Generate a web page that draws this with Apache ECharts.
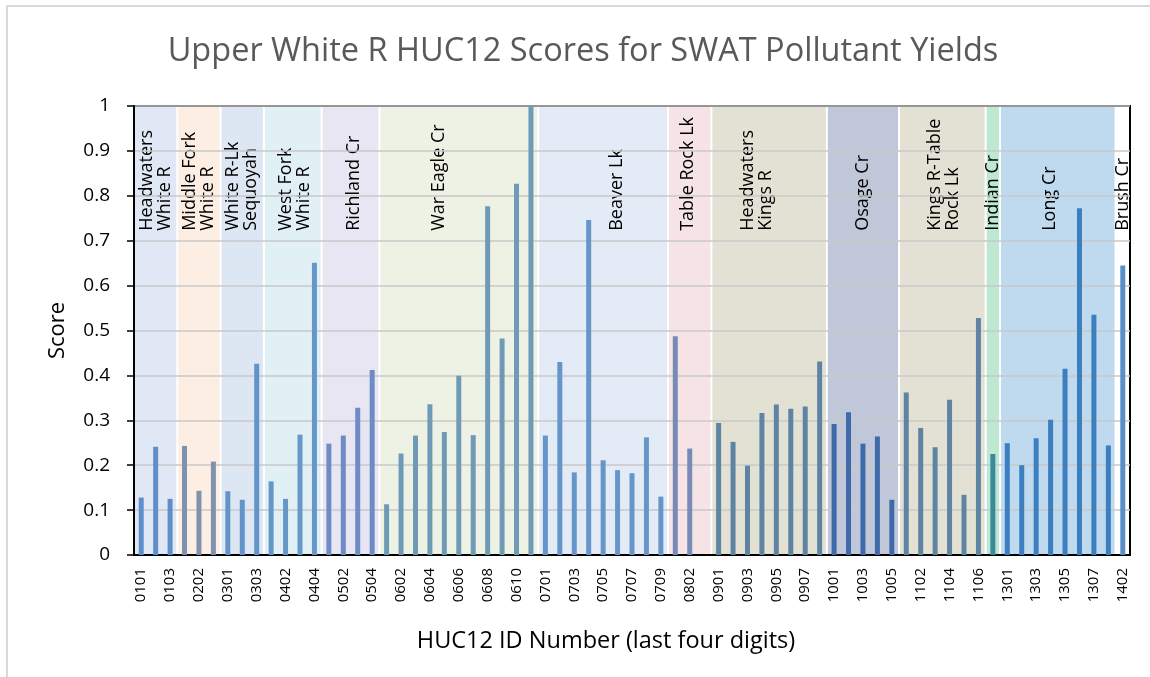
<!DOCTYPE html>
<html lang="en">
<head>
<meta charset="utf-8">
<title>Upper White R HUC12 Scores for SWAT Pollutant Yields</title>
<script src="https://cdn.jsdelivr.net/npm/echarts@6/dist/echarts.min.js"></script>
</head>
<body style="margin:0">
<div id="main" style="width:1150px;height:677px;"></div>
<script>
// HUC12 ids (last four digits) and their scores
var huc = ['0101', '0102', '0103', '0201', '0202', '0203', '0301', '0302', '0303',
    '0401', '0402', '0403', '0404', '0501', '0502', '0503', '0504',
    '0601', '0602', '0603', '0604', '0605', '0606', '0607', '0608', '0609', '0610', '0611',
    '0701', '0702', '0703', '0704', '0705', '0706', '0707', '0708', '0709',
    '0801', '0802', '0803',
    '0901', '0902', '0903', '0904', '0905', '0906', '0907', '0908',
    '1001', '1002', '1003', '1004', '1005',
    '1101', '1102', '1103', '1104', '1105', '1106',
    '1201',
    '1301', '1302', '1303', '1304', '1305', '1306', '1307', '1308',
    '1402'];
var scores = [0.128, 0.241, 0.125, 0.243, 0.143, 0.208, 0.142, 0.123, 0.426,
    0.164, 0.125, 0.268, 0.651, 0.248, 0.266, 0.328, 0.412,
    0.113, 0.226, 0.266, 0.336, 0.274, 0.399, 0.267, 0.777, 0.482, 0.827, 1.0,
    0.266, 0.430, 0.184, 0.746, 0.211, 0.189, 0.182, 0.262, 0.130,
    0.487, 0.237, null,
    0.294, 0.252, 0.199, 0.316, 0.335, 0.326, 0.331, 0.431,
    0.292, 0.318, 0.248, 0.264, 0.123,
    0.362, 0.283, 0.240, 0.346, 0.134, 0.528,
    0.225,
    0.249, 0.200, 0.260, 0.301, 0.415, 0.772, 0.535, 0.244,
    0.645];

// watersheds: name, first and last HUC12 in each
var regionNames = ['Headwaters\nWhite R', 'Middle Fork\nWhite R', 'White R-Lk\nSequoyah', 'West Fork\nWhite R',
    'Richland Cr', 'War Eagle Cr', 'Beaver Lk', 'Table Rock Lk', 'Headwaters\nKings R', 'Osage Cr',
    'Kings R-Table\nRock Lk', 'Indian Cr', 'Long Cr', 'Brush Cr'];
var regionFirst = ['0101', '0201', '0301', '0401', '0501', '0601', '0701', '0801', '0901', '1001', '1101', '1201', '1301', '1402'];
var regionLast = ['0103', '0203', '0303', '0404', '0504', '0611', '0709', '0803', '0908', '1005', '1106', '1201', '1308', '1402'];

// styles per watershed
var bandColors = ['#dfe8f4', '#fdeee3', '#dde7f4', '#e1f0f5', '#e8e6f2', '#eef2e5', '#e3ebf6',
    '#f5e3e5', '#e3e1d4', '#c0c7d8', '#e3e1d4', '#bde9d3', '#bfd9ee', null];
var barColors = ['#5f8fca', '#7e92ad', '#6394c9', '#6598c8', '#6f8bc6', '#6f9ab6', '#6595c9',
    '#7a8ab6', '#5f84a3', '#3e6aaa', '#5f84a3', '#3a8a9c', '#3c7fc0', '#5b8fc8'];
var labelShift = [0, 0, 0, 2, 3, -20, 14, -2, -12, 0, 2, 0, -8, 0];
var labelValue = 0.722;
var FONT = 'Open Sans';

var bands = regionFirst.map(function (f, i) {
    return [huc.indexOf(f), huc.indexOf(regionLast[i]), 0];
});

var barData = scores.map(function (v, i) {
    var r = 0;
    for (var k = 0; k < bands.length; k++) {
        if (i >= bands[k][0] && i <= bands[k][1]) r = k;
    }
    return { value: v, itemStyle: { color: barColors[r] } };
});

function renderBand(params, api) {
    var i = params.dataIndex;
    var s = api.value(0), e = api.value(1);
    var half = api.size([1, 0])[0] / 2;
    var p0 = api.coord([s, 1]);
    var p1 = api.coord([e, 0]);
    var x0 = p0[0] - half, x1 = p1[0] + half;
    var ly = api.coord([s, labelValue])[1];
    var children = [];
    if (bandColors[i]) {
        children.push({
            type: 'rect',
            shape: { x: x0 + 1, y: p0[1], width: x1 - x0 - 2, height: p1[1] - p0[1] },
            style: { fill: bandColors[i] }
        });
    }
    children.push({
        type: 'text',
        x: (p0[0] + p1[0]) / 2 + labelShift[i],
        y: ly,
        rotation: Math.PI / 2,
        style: {
            text: regionNames[i], fill: '#000', fontFamily: FONT, fontSize: 18,
            lineHeight: 18, align: 'left', verticalAlign: 'middle'
        }
    });
    return { type: 'group', children: children };
}

var myChart = echarts.init(document.getElementById('main'));

myChart.setOption({
    animation: false,
    backgroundColor: '#fff',
    title: {
        text: 'Upper White R HUC12 Scores for SWAT Pollutant Yields',
        left: 583, top: 35, textAlign: 'center', padding: 0,
        textStyle: { fontFamily: FONT, fontSize: 32.5, fontWeight: 'normal', color: '#595959' }
    },
    graphic: [{
        type: 'rect', silent: true,
        shape: { x: 7, y: 6, width: 1160, height: 700 },
        style: { fill: null, stroke: '#d9d9d9', lineWidth: 2 }
    }],
    grid: {
        left: 134, right: 20, top: 106, bottom: 122,
        show: true, borderColor: '#000', borderWidth: 2, backgroundColor: 'transparent'
    },
    xAxis: [{
        type: 'category',
        data: huc,
        position: 'bottom',
        axisLine: { lineStyle: { color: '#000', width: 2 } },
        axisTick: { interval: 0, length: 5, lineStyle: { color: '#000', width: 1.5 } },
        axisLabel: { interval: 1, rotate: 90, margin: 13, fontFamily: FONT, fontSize: 15, color: '#000' },
        name: 'HUC12 ID Number (last four digits)',
        nameLocation: 'middle',
        nameGap: 74,
        nameTextStyle: { fontFamily: FONT, fontSize: 23.5, color: '#000', padding: [0, 52, 0, 0] }
    }, {
        type: 'category',
        data: huc,
        position: 'bottom',
        axisLine: { show: false },
        axisTick: { inside: true, interval: 0, length: 5, lineStyle: { color: '#000', width: 1.5 } },
        axisLabel: { show: false }
    }],
    yAxis: {
        type: 'value',
        min: 0, max: 1, interval: 0.1,
        axisLine: { show: true, lineStyle: { color: '#000', width: 2 } },
        axisTick: { show: true, length: 7, lineStyle: { color: '#000', width: 1.5 } },
        axisLabel: { margin: 24, fontFamily: FONT, fontSize: 19, color: '#000' },
        splitLine: { lineStyle: { color: '#c8c8c8', width: 1.5 } },
        name: 'Score',
        nameLocation: 'middle',
        nameGap: 65,
        nameTextStyle: { fontFamily: FONT, fontSize: 22, color: '#000' }
    },
    series: [{
        type: 'custom',
        z: -1,
        silent: true,
        renderItem: renderBand,
        encode: { x: [0, 1], y: 2 },
        data: bands
    }, {
        type: 'bar',
        barWidth: 5,
        z: 2,
        data: barData
    }]
});
</script>
</body>
</html>
